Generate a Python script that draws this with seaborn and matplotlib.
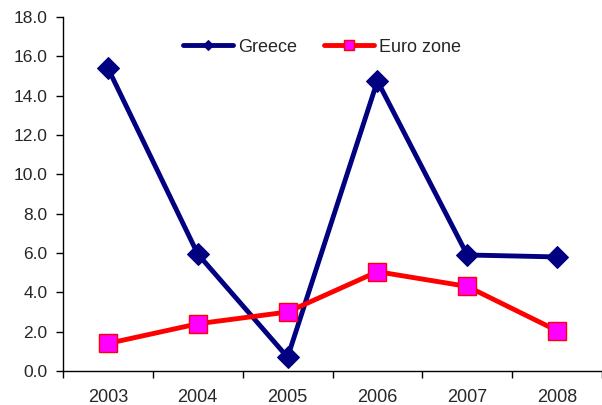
import matplotlib
matplotlib.use("Agg")
import matplotlib.pyplot as plt
import seaborn as sns
import pandas as pd
import numpy as np
from matplotlib.ticker import FixedLocator

years = ["2003", "2004", "2005", "2006", "2007", "2008"]
greece = [15.4, 5.95, 0.7, 14.75, 5.9, 5.8]
eurozone = [1.4, 2.4, 3.0, 5.05, 4.3, 2.05]
yticks = [0, 2, 4, 6, 8, 10, 12, 14, 16, 18]

sns.set_style("white")
plt.rcParams['font.family'] = ['Liberation Sans', 'DejaVu Sans']

df = pd.DataFrame({"idx": list(range(len(years))) * 2,
                   "value": greece + eurozone,
                   "series": ["Greece"] * len(years) + ["Euro zone"] * len(years)})

fig = plt.figure(figsize=(6.02, 4.05), dpi=100)
ax = fig.add_axes([63/602, 1 - 371/405, 1 - 63/602, (371 - 17)/405])

g = df[df.series == "Greece"]
e = df[df.series == "Euro zone"]
sns.lineplot(data=g, x="idx", y="value", ax=ax, color="#000080", linewidth=3.5,
             marker="D", markersize=11, markeredgecolor="#000080",
             markerfacecolor="#000080", label="Greece")
sns.lineplot(data=e, x="idx", y="value", ax=ax, color="#FF0000", linewidth=3.5,
             marker="s", markersize=13.5, markeredgecolor="#FF0000",
             markerfacecolor="#FF00FF", markeredgewidth=1, label="Euro zone")

ax.set_xlim(-0.5, len(years) - 0.5)
ax.set_ylim(0, 18)
ax.set_yticks(yticks)
ax.set_yticklabels([f"{v:.1f}" for v in yticks], fontsize=12.5)
ax.set_xticks(range(len(years)))
ax.set_xticklabels(years, fontsize=13)
ax.xaxis.set_minor_locator(FixedLocator(np.arange(-0.5, len(years), 1.0)))
ax.tick_params(axis="x", which="major", length=0, pad=13)
ax.tick_params(axis="x", which="minor", length=5, width=1, color="black", direction="out", bottom=True)
ax.tick_params(axis="y", which="major", length=5, width=1, color="black", direction="out", left=True, pad=6)
ax.set_xlabel("")
ax.set_ylabel("")
for s in ["top", "right"]:
    ax.spines[s].set_visible(False)
for s in ["left", "bottom"]:
    ax.spines[s].set_color("black")
    ax.spines[s].set_linewidth(1)

ax.legend(loc="upper center", bbox_to_anchor=(0.48, 0.985), ncol=2, frameon=False,
          fontsize=13, handlelength=2.8, columnspacing=1.5, handletextpad=0.25,
          markerscale=0.5)

fig.savefig("out.png", dpi=100)
